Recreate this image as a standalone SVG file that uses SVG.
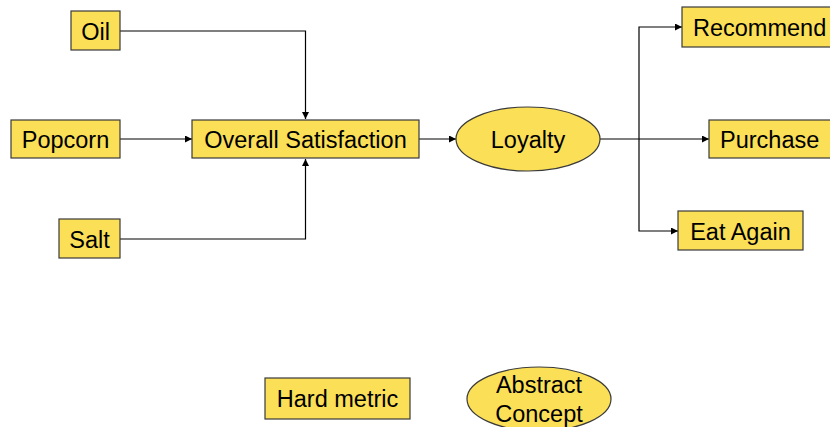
<svg xmlns="http://www.w3.org/2000/svg" width="830" height="427" viewBox="0 0 830 427">
<style>
.n{fill:#FADF57;stroke:#3a3a3a;stroke-width:1.2}
.t{font-family:"Liberation Sans",Arial,sans-serif;font-size:23.5px;fill:#000}
.c{fill:none;stroke:#000;stroke-width:1.2}
</style>
<defs>
<marker id="a" viewBox="0 0 10 10" refX="10" refY="5" markerWidth="8" markerHeight="7" markerUnits="userSpaceOnUse" orient="auto"><path d="M0,0L10,5L0,10z" fill="#000"/></marker>
</defs>
<rect width="830" height="427" fill="#fff"/>
<g id="connectors">
<path class="c" d="M120,31H305.5V119" marker-end="url(#a)"/>
<path class="c" d="M120,239H305.5V159" marker-end="url(#a)"/>
<path class="c" d="M120,139H192" marker-end="url(#a)"/>
<path class="c" d="M419,139H456" marker-end="url(#a)"/>
<path class="c" d="M600,139H709" marker-end="url(#a)"/>
<path class="c" d="M639,139V27H682" marker-end="url(#a)"/>
<path class="c" d="M639,139V231H678" marker-end="url(#a)"/>
</g>
<g id="oil"><rect class="n" x="71" y="11" width="49" height="39"/><text class="t" x="95.5" y="39.5" text-anchor="middle">Oil</text></g>
<g id="popcorn"><rect class="n" x="11" y="120" width="109" height="38"/><text class="t" x="65.5" y="148" text-anchor="middle">Popcorn</text></g>
<g id="salt"><rect class="n" x="59" y="219" width="61" height="39"/><text class="t" x="89.5" y="247.5" text-anchor="middle">Salt</text></g>
<g id="overall"><rect class="n" x="192" y="120" width="227" height="38"/><text class="t" x="305.5" y="148" text-anchor="middle">Overall Satisfaction</text></g>
<g id="loyalty"><ellipse class="n" cx="528" cy="139" rx="72" ry="32"/><text class="t" x="528" y="148" text-anchor="middle">Loyalty</text></g>
<g id="recommend"><rect class="n" x="682" y="7" width="160" height="40"/><text class="t" x="693" y="35.5">Recommend</text></g>
<g id="purchase"><rect class="n" x="709" y="120" width="130" height="38"/><text class="t" x="720" y="148">Purchase</text></g>
<g id="eatagain"><rect class="n" x="678" y="211" width="125" height="39"/><text class="t" x="740.5" y="239.5" text-anchor="middle">Eat Again</text></g>
<g id="hardmetric"><rect class="n" x="265" y="378" width="145" height="41"/><text class="t" x="337.5" y="407" text-anchor="middle">Hard metric</text></g>
<g id="abstract"><ellipse class="n" cx="539" cy="399" rx="72" ry="32"/><text class="t" x="539" y="393" text-anchor="middle">Abstract</text><text class="t" x="539" y="422" text-anchor="middle">Concept</text></g>
</svg>
